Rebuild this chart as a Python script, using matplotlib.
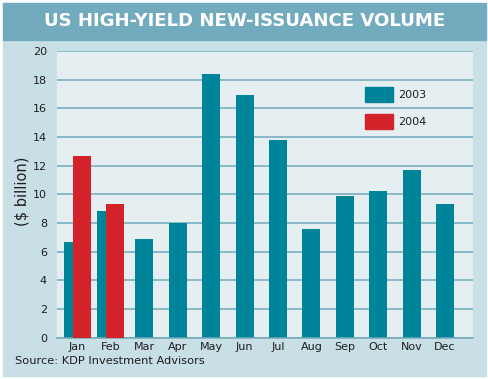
import matplotlib
matplotlib.use('Agg')
import matplotlib.pyplot as plt
from matplotlib.patches import Rectangle

months = ['Jan', 'Feb', 'Mar', 'Apr', 'May', 'Jun', 'Jul', 'Aug', 'Sep', 'Oct', 'Nov', 'Dec']
vol_2003 = [6.7, 8.8, 6.9, 8.0, 18.4, 16.9, 13.8, 7.6, 9.9, 10.2, 11.7, 9.3]
months_2004 = ['Jan', 'Feb']
vol_2004 = [12.7, 9.3]
y_ticks = [0, 2, 4, 6, 8, 10, 12, 14, 16, 18, 20]

teal = '#00849a'
red = '#d4222b'
ink = '#1e1e1e'

fig = plt.figure(figsize=(4.89, 3.79), dpi=100)
fig.patch.set_facecolor('white')

# banner and panel behind the axes
fig.patches.append(Rectangle((3 / 489, 1 - 376 / 379), 483 / 489, 336 / 379,
                             transform=fig.transFigure, color='#c8dfe5', zorder=-2))
fig.patches.append(Rectangle((3 / 489, 1 - 40 / 379), 483 / 489, 37 / 379,
                             transform=fig.transFigure, color='#72abbe', zorder=-2))
fig.text(0.5, 1 - 21.5 / 379, 'US HIGH-YIELD NEW-ISSUANCE VOLUME', color='white',
         fontsize=13.1, fontweight='bold', ha='center', va='center')

ax = fig.add_axes([56.7 / 489, 1 - 337.5 / 379, 416.3 / 489, 286.5 / 379])
ax.set_facecolor('#e5eef1')

x = list(range(len(months)))
x03 = [i - 0.135 if m in months_2004 else i for i, m in zip(x, months)]
x04 = [months.index(m) + 0.135 for m in months_2004]
ax.bar(x03, vol_2003, width=0.54, color=teal, zorder=2)
ax.bar(x04, vol_2004, width=0.54, color=red, zorder=3)

ax.set_xlim(-0.623, 11.838)
ax.set_ylim(0, 20)
ax.set_yticks(y_ticks)
ax.set_xticks(x)
ax.set_xticklabels(months)
ax.tick_params(length=0, labelcolor=ink, labelsize=8)
ax.tick_params(axis='y', pad=7)
ax.tick_params(axis='x', pad=3)
ax.yaxis.grid(True, color='#6fa9bc', linewidth=1.1, zorder=1)
ax.set_axisbelow(True)
for side in ['top', 'left', 'right']:
    ax.spines[side].set_visible(False)
ax.spines['bottom'].set_color('#6fa9bc')
ax.spines['bottom'].set_linewidth(1.1)

fig.text(22 / 489, 1 - 191 / 379, '($ billion)', rotation=90, fontsize=10.5,
         ha='center', va='center', color=ink)

# legend
for yy, c, lab in [(87, teal, '2003'), (114, red, '2004')]:
    fig.patches.append(Rectangle((365 / 489, 1 - (yy + 15) / 379), 28 / 489, 15 / 379,
                                 transform=fig.transFigure, color=c, zorder=5))
    fig.text(398 / 489, 1 - (yy + 8) / 379, lab, fontsize=8,
             ha='left', va='center', color=ink)

fig.text(15 / 489, 1 - 361 / 379, 'Source: KDP Investment Advisors', fontsize=8.2,
         ha='left', va='center', color=ink)

fig.savefig('out.png', dpi=100)
